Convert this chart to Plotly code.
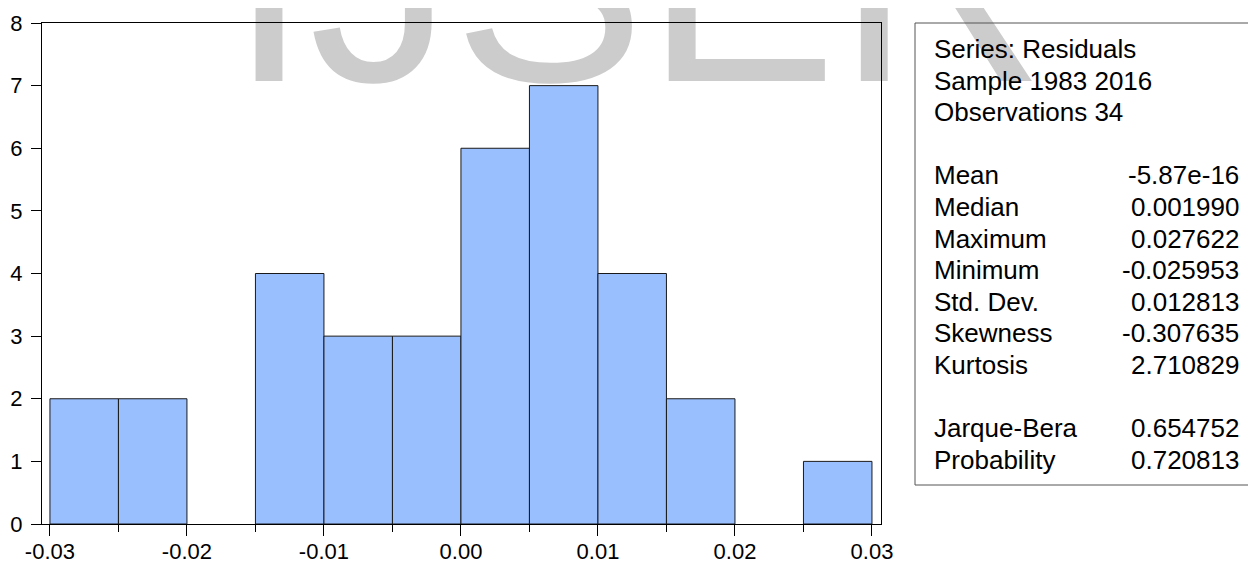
import plotly.graph_objects as go

# ---- data ----
bin_edges = [-0.030, -0.025, -0.020, -0.015, -0.010, -0.005, 0.000,
             0.005, 0.010, 0.015, 0.020, 0.025, 0.030]
counts = [2, 2, 0, 4, 3, 3, 6, 7, 4, 2, 0, 1]
x_tickvals = [-0.03, -0.02, -0.01, 0.00, 0.01, 0.02, 0.03]
x_ticktext = ["-0.03", "-0.02", "-0.01", "0.00", "0.01", "0.02", "0.03"]
y_tickvals = [0, 1, 2, 3, 4, 5, 6, 7, 8]

header_lines = ["Series: Residuals", "Sample 1983 2016", "Observations 34"]
stat_labels = ["Mean", "Median", "Maximum", "Minimum", "Std. Dev.",
               "Skewness", "Kurtosis"]
stat_values = ["-5.87e-16", "0.001990", "0.027622", "-0.025953",
               "0.012813", "-0.307635", "2.710829"]
test_labels = ["Jarque-Bera", "Probability"]
test_values = ["0.654752", "0.720813"]
watermark = "IJSER"

# page is 1256x563; the figure sits inside the default 8px body margin
OFF = 8
FW, FH = 1256 - OFF, 563 - OFF
FONT = "Arial, 'Liberation Sans', Helvetica, sans-serif"


def fx(p):  # page x pixel -> paper fraction
    return (p - OFF) / FW


def fy(p):  # page y pixel -> paper fraction
    return 1 - (p - OFF) / FH


centers = [(bin_edges[i] + bin_edges[i + 1]) / 2 for i in range(len(counts))]
widths = [bin_edges[i + 1] - bin_edges[i] for i in range(len(counts))]
bar_heights = [c if c > 0 else None for c in counts]

fig = go.Figure()

# watermark on a full-figure background subplot (pixel coordinates)
fig.add_trace(go.Scatter(
    x=[221], y=[145], mode="text", text=[watermark],
    textposition="top right",
    textfont=dict(family=FONT, size=288, color="#CCCCCC"),
    xaxis="x", yaxis="y", hoverinfo="skip", showlegend=False,
    cliponaxis=False,
))

# histogram bars
fig.add_trace(go.Bar(
    x=centers, y=bar_heights, width=widths,
    marker=dict(color="#99BFFF", line=dict(color="#1a1a1a", width=1)),
    xaxis="x2", yaxis="y2", showlegend=False,
))

# plot area in page pixels
px_left, px_right, px_top, px_bottom = 42, 881, 23, 524

fig.update_layout(
    width=FW, height=FH,
    margin=dict(l=0, r=0, t=0, b=0, autoexpand=False),
    paper_bgcolor="white",
    plot_bgcolor="rgba(0,0,0,0)",
    showlegend=False,
    font=dict(family=FONT, color="black"),
    xaxis=dict(domain=[0, 1], range=[0, FW], visible=False, fixedrange=True,
               automargin=False),
    yaxis=dict(domain=[0, 1], range=[FH, 0], visible=False, fixedrange=True,
               automargin=False),
    xaxis2=dict(
        domain=[fx(px_left), fx(px_right)], anchor="y2",
        range=[-0.03058, 0.03066],
        tickvals=x_tickvals, ticktext=x_ticktext,
        ticks="outside", ticklen=11, tickwidth=1, tickcolor="black",
        minor=dict(dtick=0.005, tick0=0, ticks="outside", ticklen=7,
                   tickcolor="black", tickwidth=1),
        showline=True, linecolor="black", linewidth=1, mirror=True,
        showgrid=False, zeroline=False, automargin=False,
        ticklabelstandoff=-3,
        tickfont=dict(family=FONT, size=22, color="black"),
    ),
    yaxis2=dict(
        domain=[fy(px_bottom), fy(px_top)], anchor="x2",
        range=[0, 8], tickvals=y_tickvals,
        ticks="outside", ticklen=10, tickwidth=1, tickcolor="black",
        showline=True, linecolor="black", linewidth=1, mirror=True,
        showgrid=False, zeroline=False, automargin=False,
        ticklabelstandoff=4,
        tickfont=dict(family=FONT, size=22, color="black"),
    ),
)

# statistics box
fig.add_shape(type="rect", xref="paper", yref="paper",
              x0=fx(915), x1=1.03, y0=fy(485), y1=fy(23),
              line=dict(color="#555555", width=1), fillcolor="rgba(0,0,0,0)",
              layer="above")

FS = 26
base0, step = 58, 31.6
label_x, value_x = 932, 1241


def row_y(i):
    # baseline (page px) -> centre of annotation box
    return fy(base0 + step * i - 0.3465 * FS)


rows = []
for i, t in enumerate(header_lines):
    rows.append((i, t, None))
for j, (lab, val) in enumerate(zip(stat_labels, stat_values)):
    rows.append((4 + j, lab, val))
for j, (lab, val) in enumerate(zip(test_labels, test_values)):
    rows.append((12 + j, lab, val))

for i, lab, val in rows:
    fig.add_annotation(x=fx(label_x), y=row_y(i), xref="paper", yref="paper",
                       text=lab, showarrow=False, xanchor="left",
                       yanchor="middle",
                       font=dict(family=FONT, size=FS, color="black"))
    if val is not None:
        fig.add_annotation(x=fx(value_x), y=row_y(i), xref="paper",
                           yref="paper", text=val, showarrow=False,
                           xanchor="right", yanchor="middle",
                           font=dict(family=FONT, size=FS, color="black"))

fig.write_html("out.html")
